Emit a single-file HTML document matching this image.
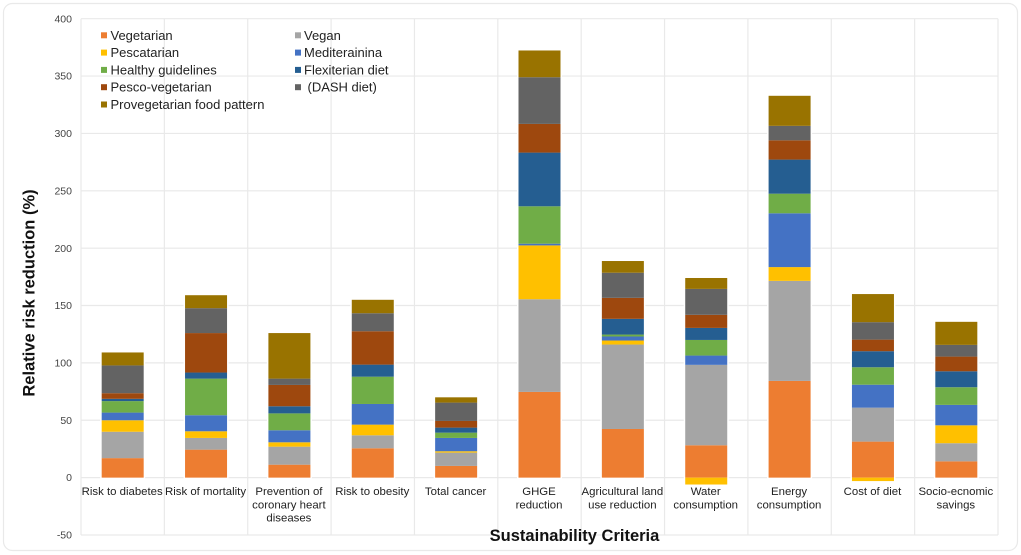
<!DOCTYPE html>
<html lang="en">
<head>
<meta charset="utf-8">
<title>Relative risk reduction by sustainability criteria</title>
<style>
html,body{margin:0;padding:0;background:#fff;width:1021px;height:555px;overflow:hidden}
svg{display:block;font-family:"Liberation Sans",Arial,sans-serif}
</style>
</head>
<body>
<svg id="chart" xmlns="http://www.w3.org/2000/svg" width="1021" height="555" viewBox="0 0 1021 555">
  <rect x="3.5" y="3.5" width="1014" height="547" rx="9" ry="9" fill="#fff" stroke="#e9e9e9" stroke-width="1.2"/>
  <g id="grid"></g>
  <g id="halos"></g>
  <g id="bars"></g>
  <g id="yticks"></g>
  <g id="xlabels"></g>
  <g id="legend"></g>
  <text transform="translate(34.5,293) rotate(-90)" text-anchor="middle" font-size="16.5" font-weight="bold" fill="#111">Relative risk reduction (%)</text>
  <text x="574.5" y="541" text-anchor="middle" font-size="16.5" font-weight="bold" fill="#111">Sustainability Criteria</text>
</svg>
<script>
const categories = [
  ["Risk to diabetes"],
  ["Risk of mortality"],
  ["Prevention of", "coronary heart", "diseases"],
  ["Risk to obesity"],
  ["Total cancer"],
  ["GHGE", "reduction"],
  ["Agricultural land", "use reduction"],
  ["Water", "consumption"],
  ["Energy", "consumption"],
  ["Cost of diet"],
  ["Socio-ecnomic", "savings"]
];
const seriesNames = ["Vegetarian", "Vegan", "Pescatarian", "Mediterainina", "Healthy guidelines", "Flexiterian diet", "Pesco-vegetarian", "(DASH diet)", "Provegetarian food pattern"];
const seriesColors = ["#ED7D31", "#A5A5A5", "#FFC000", "#4472C4", "#70AD47", "#255E91", "#9E480E", "#636363", "#997300"];
const vegetarian = [17, 24.4, 11.3, 25.6, 10.2, 74.7, 42.4, 28.2, 84.3, 31.4, 14.2];
const vegan = [23, 10.2, 15.7, 11.3, 11.6, 80.8, 73.6, 70.1, 87.2, 29.6, 15.8];
const pescatarian = [10, 5.8, 3.8, 9.3, 1.2, 46.9, 3.5, -6, 12, -3, 15.6];
const mediterranean = [6.7, 14, 10.5, 18, 11.6, 1.5, 3.5, 8.1, 46.9, 20, 17.8];
const healthyGuidelines = [10, 31.9, 14.7, 23.8, 4.6, 32.6, 1.7, 13.6, 17.1, 15.2, 15.4];
const flexitarian = [2, 5.3, 6.2, 10.5, 4.4, 46.8, 13.7, 10.5, 29.7, 14, 13.9];
const pescoVegetarian = [4.9, 34.4, 18.6, 29.1, 5.8, 25, 18.3, 11.4, 16.8, 10.1, 12.8];
const dashDiet = [24.2, 21.7, 5.5, 15.7, 16, 40.7, 21.9, 22.6, 12.6, 15.2, 10.2];
const provegetarian = [11.3, 11.3, 39.7, 11.7, 4.6, 23.3, 10.2, 9.5, 26.2, 24.5, 20.1];
const seriesValues = [vegetarian, vegan, pescatarian, mediterranean, healthyGuidelines, flexitarian, pescoVegetarian, dashDiet, provegetarian];
const yTicks = [400, 350, 300, 250, 200, 150, 100, 50, 0, -50];

const NS = "http://www.w3.org/2000/svg";
const plotLeft = 81, plotRight = 998, plotTop = 18.7, plotBottom = 535;
const yMin = -50, yMax = 400, barWidth = 42;
const bandWidth = (plotRight - plotLeft) / categories.length;
function yScale(v) { return plotBottom - (v - yMin) / (yMax - yMin) * (plotBottom - plotTop); }
function xBand(i) { return plotLeft + i * bandWidth; }
function make(tag, attrs, parent) {
  const el = document.createElementNS(NS, tag);
  for (const k in attrs) el.setAttribute(k, attrs[k]);
  parent.appendChild(el);
  return el;
}

const gridG = document.getElementById("grid");
yTicks.forEach(function (t) {
  const line = make("line", { x1: plotLeft, x2: plotRight, y1: yScale(t), y2: yScale(t), stroke: "#e9e9e9", "stroke-width": 1.2 }, gridG);
  
  
});
for (let i = 0; i <= categories.length; i++) {
  const line = make("line", { x1: xBand(i), x2: xBand(i), y1: plotTop, y2: plotBottom, stroke: "#e9e9e9", "stroke-width": 1.2 }, gridG);
  
  
}

const tickG = document.getElementById("yticks");
yTicks.forEach(function (t) {
  const label = make("text", { x: 72, y: yScale(t) + 3.6, "text-anchor": "end", "font-size": 10.5, fill: "#444" }, tickG);
  
  
  label.textContent = t;
});

const barG = document.getElementById("bars");
const haloG = document.getElementById("halos");
categories.forEach(function (cat, c) {
  let posBase = 0, negBase = 0;
  const x = xBand(c) + (bandWidth - barWidth) / 2;
  seriesValues.forEach(function (vals, s) {
    const v = vals[c];
    let y0, y1;
    if (v >= 0) { y0 = posBase; y1 = posBase + v; posBase = y1; }
    else { y0 = negBase; y1 = negBase + v; negBase = y1; }
    const top = Math.min(yScale(y0), yScale(y1));
    const h = Math.abs(yScale(y0) - yScale(y1));
    const rect = make("rect", { x: x, y: top, width: barWidth, height: h, fill: seriesColors[s] }, barG);
    
    
  });
  const halo = make("rect", { x: x - 1.5, y: yScale(posBase) - 1, width: barWidth + 3, height: yScale(negBase) - yScale(posBase) + 2, fill: "#fff" }, haloG);
  
  
});

const xG = document.getElementById("xlabels");
categories.forEach(function (lines, c) {
  const cx = xBand(c) + bandWidth / 2 - 0.5;
  lines.forEach(function (line, l) {
    const label = make("text", { x: cx, y: 495 + l * 13.3, "text-anchor": "middle", "font-size": 11.4, fill: "#222" }, xG);
    
    
    label.textContent = line;
  });
});

const legendG = document.getElementById("legend");
const legendColX = [101, 295], legendTextX = [110.5, 304];
seriesNames.forEach(function (name, s) {
  const col = s % 2, row = Math.floor(s / 2);
  const cy = 35.3 + row * 17.3;
  const swatch = make("rect", { x: legendColX[col], y: cy - 3, width: 6, height: 6, fill: seriesColors[s] }, legendG);
  
  
  const offset = name.charAt(0) === "(" ? 3.5 : 0;
  const label = make("text", { x: legendTextX[col] + offset, y: cy + 4.5, "font-size": 13, fill: "#222" }, legendG);
  
  
  label.textContent = name;
});
</script>
</body>
</html>
